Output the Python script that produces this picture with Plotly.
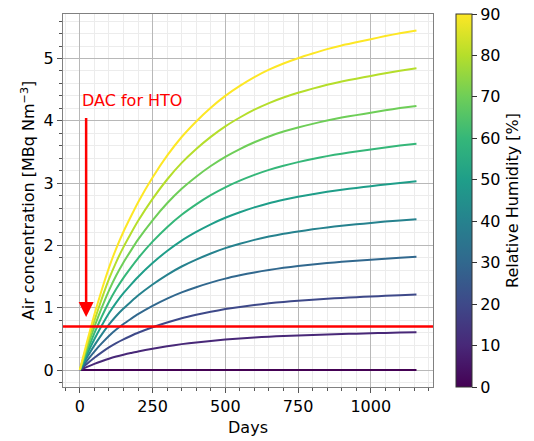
import plotly.graph_objects as go
from plotly.colors import sample_colorscale

# ---- data ----
days = [0, 25, 50, 75, 100, 125, 150, 175, 200, 250, 300, 350, 400, 450, 500,
        550, 600, 650, 700, 750, 800, 850, 900, 950, 1000, 1050, 1100, 1157]
rh_levels = [0, 10, 20, 30, 40, 50, 60, 70, 80, 90]
conc_rh0 = [0] * 28
conc_rh10 = [0, 0.051, 0.099, 0.142, 0.182, 0.217, 0.247, 0.273, 0.299, 0.343, 0.382, 0.416, 0.443, 0.468, 0.489,
             0.507, 0.522, 0.536, 0.547, 0.556, 0.564, 0.572, 0.579, 0.584, 0.59, 0.596, 0.601, 0.606]
conc_rh20 = [0, 0.102, 0.198, 0.284, 0.364, 0.433, 0.493, 0.547, 0.598, 0.687, 0.764, 0.831, 0.887, 0.936, 0.978,
             1.013, 1.044, 1.071, 1.093, 1.112, 1.129, 1.144, 1.158, 1.169, 1.18, 1.191, 1.201, 1.211]
conc_rh30 = [0, 0.153, 0.297, 0.427, 0.547, 0.65, 0.74, 0.82, 0.897, 1.03, 1.147, 1.247, 1.33, 1.403, 1.467,
             1.52, 1.567, 1.607, 1.64, 1.668, 1.693, 1.717, 1.737, 1.753, 1.77, 1.787, 1.802, 1.817]
conc_rh40 = [0, 0.204, 0.396, 0.569, 0.729, 0.867, 0.987, 1.093, 1.196, 1.373, 1.529, 1.662, 1.773, 1.871, 1.956,
             2.027, 2.089, 2.142, 2.187, 2.224, 2.258, 2.289, 2.316, 2.338, 2.36, 2.382, 2.402, 2.422]
conc_rh50 = [0, 0.256, 0.494, 0.711, 0.911, 1.083, 1.233, 1.367, 1.494, 1.717, 1.911, 2.078, 2.217, 2.339, 2.444,
             2.533, 2.611, 2.678, 2.733, 2.781, 2.822, 2.861, 2.894, 2.922, 2.95, 2.978, 3.003, 3.028]
conc_rh60 = [0, 0.307, 0.593, 0.853, 1.093, 1.30, 1.48, 1.64, 1.793, 2.06, 2.293, 2.493, 2.66, 2.807, 2.933,
             3.04, 3.133, 3.213, 3.28, 3.337, 3.387, 3.433, 3.473, 3.507, 3.54, 3.573, 3.603, 3.633]
conc_rh70 = [0, 0.358, 0.692, 0.996, 1.276, 1.517, 1.727, 1.913, 2.092, 2.403, 2.676, 2.909, 3.103, 3.274, 3.422,
             3.547, 3.656, 3.749, 3.827, 3.893, 3.951, 4.006, 4.052, 4.091, 4.13, 4.169, 4.204, 4.239]
conc_rh80 = [0, 0.409, 0.791, 1.138, 1.458, 1.733, 1.973, 2.187, 2.391, 2.747, 3.058, 3.324, 3.547, 3.742, 3.911,
             4.053, 4.178, 4.284, 4.373, 4.449, 4.516, 4.578, 4.631, 4.676, 4.72, 4.764, 4.804, 4.844]
conc_rh90 = [0, 0.46, 0.89, 1.28, 1.64, 1.95, 2.22, 2.46, 2.69, 3.09, 3.44, 3.74, 3.99, 4.21, 4.40,
             4.56, 4.70, 4.82, 4.92, 5.005, 5.08, 5.15, 5.21, 5.26, 5.31, 5.36, 5.405, 5.45]
series = [conc_rh0, conc_rh10, conc_rh20, conc_rh30, conc_rh40,
          conc_rh50, conc_rh60, conc_rh70, conc_rh80, conc_rh90]

dac_level = 0.7
arrow_day = 21.7
arrow_top = 4.07
arrow_tip = 0.85
label_text = "DAC for HTO"
x_ticks = [0, 250, 500, 750, 1000]
y_ticks = [0, 1, 2, 3, 4, 5]
cbar_ticks = [0, 10, 20, 30, 40, 50, 60, 70, 80, 90]

FONT = "DejaVu Sans"
fig = go.Figure()

for rh, vals in zip(rh_levels, series):
    col = sample_colorscale("Viridis", rh / 90)[0]
    fig.add_trace(go.Scatter(x=days, y=vals, mode="lines",
                             line=dict(color=col, width=2, shape="spline", smoothing=0.5),
                             showlegend=False, hoverinfo="skip"))

# colorbar carrier
fig.add_trace(go.Scatter(
    x=[None], y=[None], mode="markers", showlegend=False, hoverinfo="skip",
    marker=dict(color=[0], colorscale="Viridis", cmin=0, cmax=90.0005, showscale=True,
                colorbar=dict(
                    x=(448 - 55) / 370, xanchor="left", xref="paper", xpad=0, ypad=0,
                    y=0.5, yanchor="middle", len=1, lenmode="fraction",
                    thickness=16, thicknessmode="pixels",
                    outlinecolor="#333333", outlinewidth=1,
                    tickvals=cbar_ticks, ticktext=[str(v) for v in cbar_ticks],
                    ticks="outside", ticklen=5, tickcolor="#333333",
                    ticklabeloverflow="allow",
                    tickfont=dict(family=FONT, size=16, color="black"),
                    title=dict(text="Relative Humidity [%]", side="right",
                               font=dict(family=FONT, size=16, color="black")),
                ))))

# DAC horizontal line
fig.add_shape(type="line", xref="x domain", yref="y", x0=0, x1=1,
              y0=dac_level, y1=dac_level, line=dict(color="red", width=2.5), layer="above")

# arrow
fig.add_annotation(x=arrow_day, y=arrow_tip, ax=arrow_day, ay=arrow_top,
                   xref="x", yref="y", axref="x", ayref="y", text="",
                   showarrow=True, arrowhead=2, arrowsize=1.2, arrowwidth=2.5,
                   arrowcolor="red", standoff=0, startstandoff=0)
fig.add_annotation(x=0, y=4.33, xref="x", yref="y", text=label_text, showarrow=False,
                   xanchor="left", yanchor="middle",
                   font=dict(family=FONT, size=16, color="red"))

axis_common = dict(showline=True, linecolor="#808080", linewidth=1.3, mirror=True,
                   showgrid=True, gridcolor="#b8b8b8", gridwidth=1, zeroline=False,
                   ticks="outside", ticklen=5, tickcolor="#555555", tickwidth=1,
                   tickfont=dict(family=FONT, size=16, color="black"))

fig.update_xaxes(range=[-57.8, 1213.8], tickvals=x_ticks,
                 title=dict(text="Days", font=dict(family=FONT, size=16, color="black"), standoff=6),
                 minor=dict(dtick=50, tick0=0, showgrid=True, gridcolor="#ececec", gridwidth=1,
                            ticks="outside", ticklen=3, tickcolor="#555555"),
                 **axis_common)
fig.update_yaxes(range=[-0.272, 5.714], tickvals=y_ticks,
                 title=dict(text="Air concentration [MBq Nm<sup>−3</sup>]",
                            font=dict(family=FONT, size=16, color="black"), standoff=4),
                 minor=dict(dtick=0.2, tick0=0, showgrid=True, gridcolor="#ececec", gridwidth=1,
                            ticks="outside", ticklen=3, tickcolor="#555555"),
                 **axis_common)

# page body has an 8px margin, so the figure is 8px smaller than the window
fig.update_layout(width=526, height=433,
                  margin=dict(l=55, r=101, t=6, b=54, autoexpand=False),
                  paper_bgcolor="white", plot_bgcolor="white",
                  font=dict(family=FONT, size=16, color="black"))

fig.write_html("out.html")
